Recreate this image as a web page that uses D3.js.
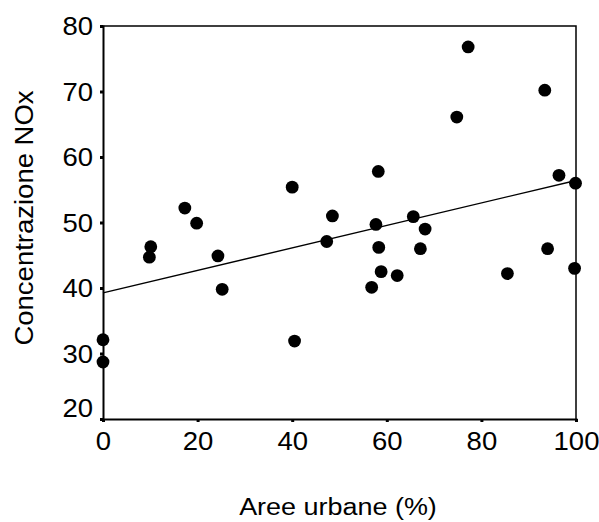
<!DOCTYPE html>
<html>
<head>
<meta charset="utf-8">
<script src="https://cdn.jsdelivr.net/npm/d3@7/dist/d3.min.js"></script>
<style>
  html, body { margin: 0; padding: 0; background: #fff; }
  svg { display: block; }
  text { font-family: "Liberation Sans", Arial, sans-serif; fill: #000; }
</style>
</head>
<body>
<svg id="chart" width="599" height="522"></svg>
<script>
// Urban area share (%) per site
const areeUrbane = [0, 0, 9.8, 10.1, 17.3, 19.8, 24.3, 25.2, 40.0, 40.5, 47.3, 48.5,
  77.2, 93.4, 74.8, 58.2, 96.4, 99.9, 65.6, 57.7, 68.1, 58.3, 67.1, 94.0,
  58.8, 62.2, 85.5, 99.7, 56.8];
// NOx concentration per site
const concentrazioneNOx = [32.1, 28.7, 44.7, 46.3, 52.2, 49.9, 44.9, 39.8, 55.4, 31.9, 47.1, 51.0,
  76.8, 70.2, 66.1, 57.8, 57.2, 56.0, 50.9, 49.7, 49.0, 46.2, 46.0, 46.0,
  42.5, 41.9, 42.2, 43.0, 40.1];
const xTicks = [0, 20, 40, 60, 80, 100];
const yTicks = [20, 30, 40, 50, 60, 70, 80];
const xTitle = "Aree urbane (%)";
const yTitle = "Concentrazione NOx";

const svg = d3.select("#chart");
const plotLeft = 103, plotRight = 576, plotTop = 26, plotBottom = 419;

const x = d3.scaleLinear().domain([0, 100]).range([plotLeft, plotRight]);
const y = d3.scaleLinear().domain([20, 80]).range([plotBottom, plotTop]);

// Frame: top and right borders
svg.append("path")
  .attr("d", `M${plotLeft},${plotTop}H${plotRight}V${plotBottom}`)
  .attr("fill", "none").attr("stroke", "#000").attr("stroke-width", 1.5);

const stretch = "scale(1.1,1)";

// Y axis
const yAxis = svg.append("g")
  .attr("transform", `translate(${plotLeft},0)`)
  .call(d3.axisLeft(y).tickValues(yTicks).tickSize(3).tickPadding(7).tickFormat(d3.format("d")));
yAxis.select(".domain").attr("stroke", "#000").attr("stroke-width", 2);
yAxis.selectAll(".tick line").attr("stroke", "#000").attr("stroke-width", 3);
yAxis.selectAll(".tick text")
  .style("font-size", "25px")
  .attr("font-family", null)
  .attr("dy", d => d === 20 ? "-0.12em" : "0.35em")
  .each(function () {
    const t = d3.select(this);
    const xx = +t.attr("x");
    t.attr("x", xx / 1.1).attr("transform", stretch);
  });

// X axis
const xAxis = svg.append("g")
  .attr("transform", `translate(0,${plotBottom})`)
  .call(d3.axisBottom(x).tickValues(xTicks).tickSize(3).tickPadding(10).tickFormat(d3.format("d")));
xAxis.select(".domain").attr("stroke", "#000").attr("stroke-width", 2);
xAxis.selectAll(".tick line").attr("stroke", "#000").attr("stroke-width", 3);
xAxis.selectAll(".tick text")
  .style("font-size", "25px")
  .attr("font-family", null)
  .attr("transform", stretch);

// Least-squares fit line
const n = areeUrbane.length;
const mx = d3.mean(areeUrbane), my = d3.mean(concentrazioneNOx);
let sxy = 0, sxx = 0;
for (let i = 0; i < n; i++) {
  sxy += (areeUrbane[i] - mx) * (concentrazioneNOx[i] - my);
  sxx += (areeUrbane[i] - mx) ** 2;
}
const slope = sxy / sxx, intercept = my - slope * mx;
svg.append("line")
  .attr("x1", x(0)).attr("y1", y(intercept))
  .attr("x2", x(100)).attr("y2", y(intercept + slope * 100))
  .attr("stroke", "#000").attr("stroke-width", 1.4);

// Points
svg.append("g").selectAll("circle")
  .data(areeUrbane.map((v, i) => [v, concentrazioneNOx[i]]))
  .join("circle")
  .attr("cx", d => x(d[0])).attr("cy", d => y(d[1]))
  .attr("r", 6.4).attr("fill", "#000");

// Axis titles
svg.append("text")
  .attr("transform", `translate(338,515) scale(1.1,1)`)
  .attr("text-anchor", "middle")
  .style("font-size", "24.5px")
  .text(xTitle);

svg.append("text")
  .attr("transform", `translate(33,218) rotate(-90) scale(1.1,1)`)
  .attr("text-anchor", "middle")
  .style("font-size", "25px")
  .text(yTitle);
</script>
</body>
</html>
